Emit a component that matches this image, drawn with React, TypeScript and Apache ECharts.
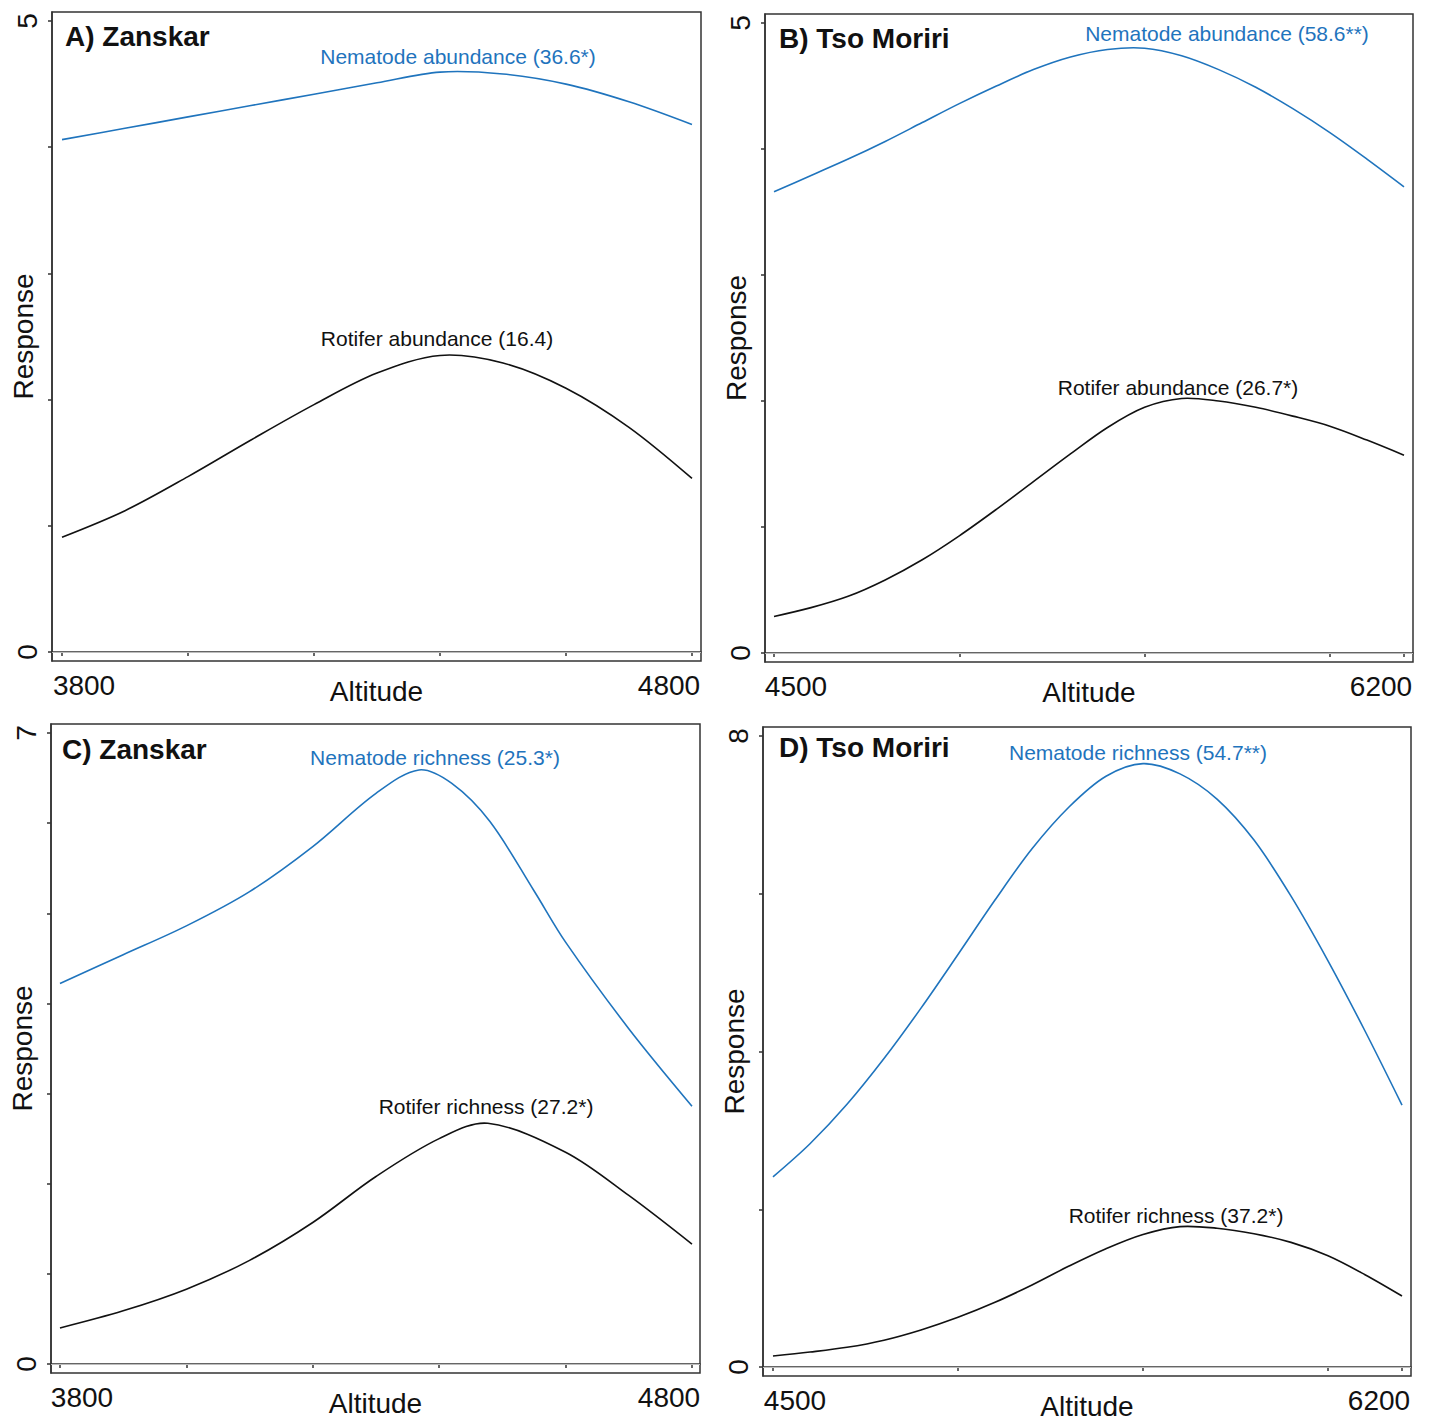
import React, { useEffect, useRef } from "react";
import * as echarts from "echarts";

// ---------- DATA ----------
// Panel A (Zanskar, abundance)
const altZanskar = [3800, 3900, 4000, 4100, 4200, 4300, 4400, 4500, 4600, 4700, 4800];
const nemAbundanceA = [4.06, 4.15, 4.24, 4.33, 4.42, 4.51, 4.595, 4.58, 4.5, 4.36, 4.18];
const rotAbundanceA = [0.91, 1.12, 1.39, 1.68, 1.96, 2.21, 2.35, 2.29, 2.09, 1.78, 1.375];

// Panel C (Zanskar, richness)
const altNemC = [3800, 3900, 4000, 4100, 4200, 4300, 4368, 4420, 4480, 4550, 4600, 4700, 4800];
const nemRichnessC = [4.22, 4.54, 4.86, 5.24, 5.74, 6.33, 6.59, 6.44, 6.02, 5.25, 4.68, 3.72, 2.86];
const altRotC = [3800, 3900, 4000, 4100, 4200, 4300, 4400, 4477, 4600, 4700, 4800];
const rotRichnessC = [0.4, 0.59, 0.83, 1.15, 1.57, 2.08, 2.5, 2.67, 2.35, 1.87, 1.33];

// Panels B and D (Tso Moriri)
const altTso = [4500, 4600, 4700, 4800, 4900, 5000, 5100, 5200, 5300, 5400, 5500, 5600, 5700, 5800, 5900, 6000, 6100, 6200];
const nemAbundanceB = [3.66, 3.79, 3.92, 4.06, 4.21, 4.36, 4.5, 4.63, 4.73, 4.79, 4.8, 4.74, 4.63, 4.49, 4.32, 4.13, 3.92, 3.7];
const rotAbundanceB = [0.29, 0.36, 0.45, 0.58, 0.74, 0.93, 1.14, 1.36, 1.58, 1.79, 1.95, 2.02, 2.0, 1.95, 1.88, 1.8, 1.69, 1.57];
const nemRichnessD = [2.41, 2.83, 3.33, 3.91, 4.55, 5.23, 5.92, 6.57, 7.1, 7.49, 7.65, 7.52, 7.2, 6.68, 5.97, 5.15, 4.26, 3.32];
const rotRichnessD = [0.14, 0.19, 0.25, 0.34, 0.47, 0.63, 0.82, 1.04, 1.28, 1.5, 1.68, 1.78, 1.76, 1.69, 1.58, 1.41, 1.17, 0.9];

// Ticks and tick labels
const xTicksZanskar = [3800, 4000, 4200, 4400, 4600, 4800];
const xLabelsZanskar = [3800, 4800];
const xTicksTso = [4500, 5000, 5500, 6000, 6200];
const xLabelsTso = [4500, 6200];
const yTicksA = [0, 1, 2, 3, 4, 5];
const yLabelsA = [0, 5];
const yTicksB = [0, 1, 2, 3, 4, 5];
const yLabelsB = [0, 5];
const yTicksC = [0, 1, 2, 3, 4, 5, 6, 7];
const yLabelsC = [0, 7];
const yTicksD = [0, 2, 4, 6, 8];
const yLabelsD = [0, 8];

const titles = ["A) Zanskar", "B) Tso Moriri", "C) Zanskar", "D) Tso Moriri"];
const nemLabels = [
  "Nematode abundance (36.6*)",
  "Nematode abundance (58.6**)",
  "Nematode richness (25.3*)",
  "Nematode richness (54.7**)",
];
const rotLabels = [
  "Rotifer abundance (16.4)",
  "Rotifer abundance (26.7*)",
  "Rotifer richness (27.2*)",
  "Rotifer richness (37.2*)",
];

const BLUE = "#1f74bd";
const FONT = "Liberation Sans, Arial, sans-serif";

// ---------- LAYOUT ----------
const panels = [
  {
    box: [52, 12, 701, 661], xr: [3784.1, 4814.3], yr: [-0.0713, 5.0713],
    xt: xTicksZanskar, xl: xLabelsZanskar, yt: yTicksA, yl: yLabelsA,
    nem: [altZanskar, nemAbundanceA], rot: [altZanskar, rotAbundanceA],
    title: [65, 38], nemPos: [458, 56], rotPos: [437, 338],
  },
  {
    box: [765, 14, 1413, 662], xr: [4475.7, 6224.3], yr: [-0.0714, 5.0714],
    xt: xTicksTso, xl: xLabelsTso, yt: yTicksB, yl: yLabelsB,
    nem: [altTso, nemAbundanceB], rot: [altTso, rotAbundanceB],
    title: [779, 40], nemPos: [1227, 33], rotPos: [1178, 387],
  },
  {
    box: [51, 724, 700, 1373], xr: [3785.8, 4812.7], yr: [-0.0998, 7.0998],
    xt: xTicksZanskar, xl: xLabelsZanskar, yt: yTicksC, yl: yLabelsC,
    nem: [altNemC, nemRichnessC], rot: [altRotC, rotRichnessC],
    title: [62, 751], nemPos: [435, 757], rotPos: [486, 1106],
  },
  {
    box: [763, 727, 1411, 1376], xr: [4473, 6224.3], yr: [-0.114, 8.114],
    xt: xTicksTso, xl: xLabelsTso, yt: yTicksD, yl: yLabelsD,
    nem: [altTso, nemRichnessD], rot: [altTso, rotRichnessD],
    title: [779, 749], nemPos: [1138, 752], rotPos: [1176, 1215],
  },
];

const zip = (xs: number[], ys: number[]) => xs.map((x, i) => [x, ys[i]]);

// A smooth curve through the data points, positioned by the axes (api.coord)
function curveSeries(i: number, data: number[][], color: string, withZeroLine: boolean) {
  const s: any = {
    type: "custom", xAxisIndex: i, yAxisIndex: i,
    data, encode: { x: 0, y: 1 }, silent: true, z: 3,
    renderItem: (params: any, api: any) => {
      if (params.dataIndex !== 0) return null;
      const pts = data.map((d) => api.coord(d));
      return {
        type: "polyline",
        shape: { points: pts, smooth: 0.33 },
        style: { stroke: color, lineWidth: 1.6, fill: null },
      };
    },
  };
  if (withZeroLine) {
    s.markLine = {
      silent: true, symbol: ["none", "none"], label: { show: false },
      lineStyle: { color: "#bdbdbd", width: 1.2, type: "solid" },
      data: [{ yAxis: 0 }],
    };
  }
  return s;
}

function buildOption() {
  const grid: any[] = [];
  const xAxis: any[] = [];
  const yAxis: any[] = [];
  const series: any[] = [];
  const graphic: any[] = [];

  panels.forEach((p, i) => {
    const [l, t, r, b] = p.box;
    grid.push({
      left: l, top: t, width: r - l, height: b - t,
      containLabel: false, outerBoundsMode: "none",
      show: true, borderColor: "#333", borderWidth: 1.5, backgroundColor: "transparent",
    });
    const minL = p.xl[0];
    xAxis.push({
      type: "value", gridIndex: i, min: p.xr[0], max: p.xr[1],
      splitLine: { show: false },
      axisLine: { show: true, lineStyle: { color: "#333", width: 1.5 } },
      axisTick: { show: true, length: 4, lineStyle: { color: "#333", width: 1.5 }, customValues: p.xt },
      axisLabel: {
        show: true, customValues: p.xl, margin: 10,
        color: "#111", fontFamily: FONT, fontSize: 28,
        formatter: (v: number) => (v === minL ? `{l|${v}}` : `{r|${v}}`),
        rich: {
          l: { fontFamily: FONT, fontSize: 28, color: "#111", padding: [0, 0, 0, 44] },
          r: { fontFamily: FONT, fontSize: 28, color: "#111", padding: [0, 46, 0, 0] },
        },
      },
      name: "Altitude", nameLocation: "middle", nameGap: 16, nameMoveOverlap: false,
      nameTextStyle: { fontFamily: FONT, fontSize: 28, color: "#111", verticalAlign: "top" },
    });
    yAxis.push({
      type: "value", gridIndex: i, min: p.yr[0], max: p.yr[1],
      splitLine: { show: false },
      axisLine: { show: true, lineStyle: { color: "#333", width: 1.5 } },
      axisTick: { show: true, length: 4, lineStyle: { color: "#333", width: 1.5 }, customValues: p.yt },
      axisLabel: {
        show: true, customValues: p.yl, rotate: 90, margin: 11,
        color: "#111", fontFamily: FONT, fontSize: 28,
      },
      name: "Response", nameLocation: "middle", nameRotate: 90, nameGap: 15, nameMoveOverlap: false,
      nameTextStyle: { fontFamily: FONT, fontSize: 28, color: "#111" },
    });
    series.push(curveSeries(i, zip(p.nem[0], p.nem[1]), BLUE, true));
    series.push(curveSeries(i, zip(p.rot[0], p.rot[1]), "#111", false));
    graphic.push({
      type: "text", left: p.title[0], top: p.title[1] - 16,
      style: { text: titles[i], font: `bold 28px ${FONT}`, fill: "#111" },
    });
    graphic.push({
      type: "text", x: p.nemPos[0], y: p.nemPos[1],
      style: { text: nemLabels[i], font: `21px ${FONT}`, fill: BLUE, align: "center", verticalAlign: "middle" },
    });
    graphic.push({
      type: "text", x: p.rotPos[0], y: p.rotPos[1],
      style: { text: rotLabels[i], font: `21px ${FONT}`, fill: "#111", align: "center", verticalAlign: "middle" },
    });
  });

  return { animation: false, backgroundColor: "#fff", grid, xAxis, yAxis, series, graphic };
}

export default function App() {
  const ref = useRef<HTMLDivElement>(null);
  useEffect(() => {
    if (!ref.current) return;
    const chart = echarts.init(ref.current, undefined, { renderer: "svg" });
    chart.setOption(buildOption() as any);
    return () => chart.dispose();
  }, []);
  return (
    <div
      ref={ref}
      style={{ position: "fixed", left: 0, top: 0, width: 1429, height: 1421, background: "#fff" }}
    />
  );
}
